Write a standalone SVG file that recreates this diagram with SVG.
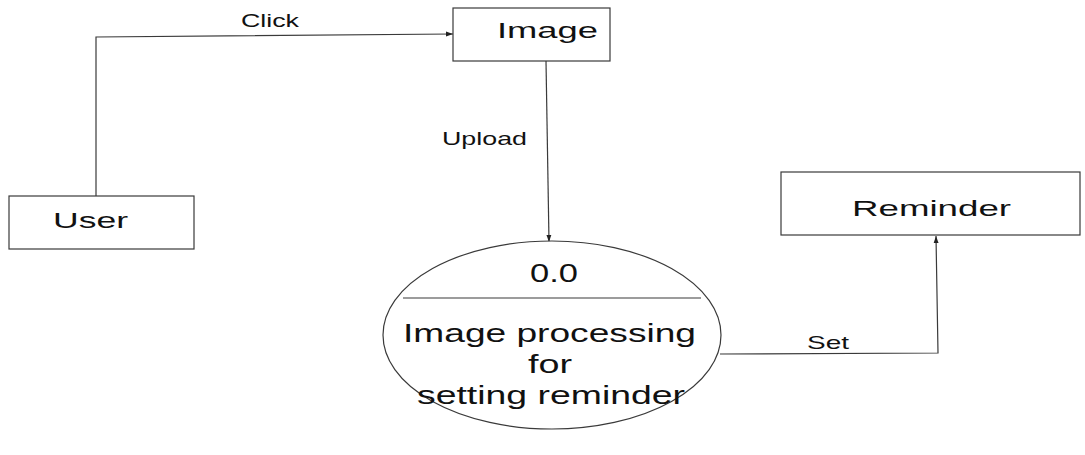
<svg xmlns="http://www.w3.org/2000/svg" width="1085" height="455" viewBox="0 0 1085 455">
<style>
.box{fill:#fff;stroke:#3a3a3a;stroke-width:1.2}
.ln{fill:none;stroke:#3a3a3a;stroke-width:1.2}
.t{font-family:"Liberation Sans",Arial,sans-serif;fill:#111}
.big{font-size:22px}
.ell{font-size:26px}
.lbl{font-size:19px}
</style>
<defs>
<marker id="ah" viewBox="0 0 10 10" refX="10" refY="5" markerWidth="7" markerHeight="7" markerUnits="userSpaceOnUse" orient="auto">
<path d="M0,1.5 L10,5 L0,8.5 z" fill="#222"/>
</marker>
</defs>
<rect width="1085" height="455" fill="#fff"/>
<g id="connectors">
<path class="ln" d="M96,196 L96,37 L453,34" marker-end="url(#ah)"/>
<text class="t lbl" x="241" y="27" textLength="58" lengthAdjust="spacingAndGlyphs">Click</text>
<path class="ln" d="M546,61 L549,242" marker-end="url(#ah)"/>
<text class="t lbl" x="442" y="145" textLength="85" lengthAdjust="spacingAndGlyphs">Upload</text>
<path class="ln" d="M720,354 L938,353 L936,236" marker-end="url(#ah)"/>
<text class="t lbl" x="807" y="349" textLength="42" lengthAdjust="spacingAndGlyphs">Set</text>
</g>
<g id="image">
<rect class="box" x="453" y="8" width="157" height="53"/>
<text class="t big" x="497" y="38" textLength="101" lengthAdjust="spacingAndGlyphs">Image</text>
</g>
<g id="user">
<rect class="box" x="9" y="196" width="185" height="53"/>
<text class="t big" x="53" y="228" textLength="75" lengthAdjust="spacingAndGlyphs">User</text>
</g>
<g id="reminder">
<rect class="box" x="781" y="172" width="299" height="63"/>
<text class="t big" x="852" y="216" textLength="159" lengthAdjust="spacingAndGlyphs">Reminder</text>
</g>
<g id="process">
<ellipse class="box" cx="552" cy="335" rx="169" ry="94"/>
<line class="ln" x1="403" y1="298" x2="701" y2="298"/>
<text class="t ell" x="530" y="282" textLength="48" lengthAdjust="spacingAndGlyphs">0.0</text>
<text class="t ell" x="403" y="342" textLength="293" lengthAdjust="spacingAndGlyphs">Image processing</text>
<text class="t ell" x="528" y="373" textLength="44" lengthAdjust="spacingAndGlyphs">for</text>
<text class="t ell" x="417" y="404" textLength="268" lengthAdjust="spacingAndGlyphs">setting reminder</text>
</g>
</svg>
